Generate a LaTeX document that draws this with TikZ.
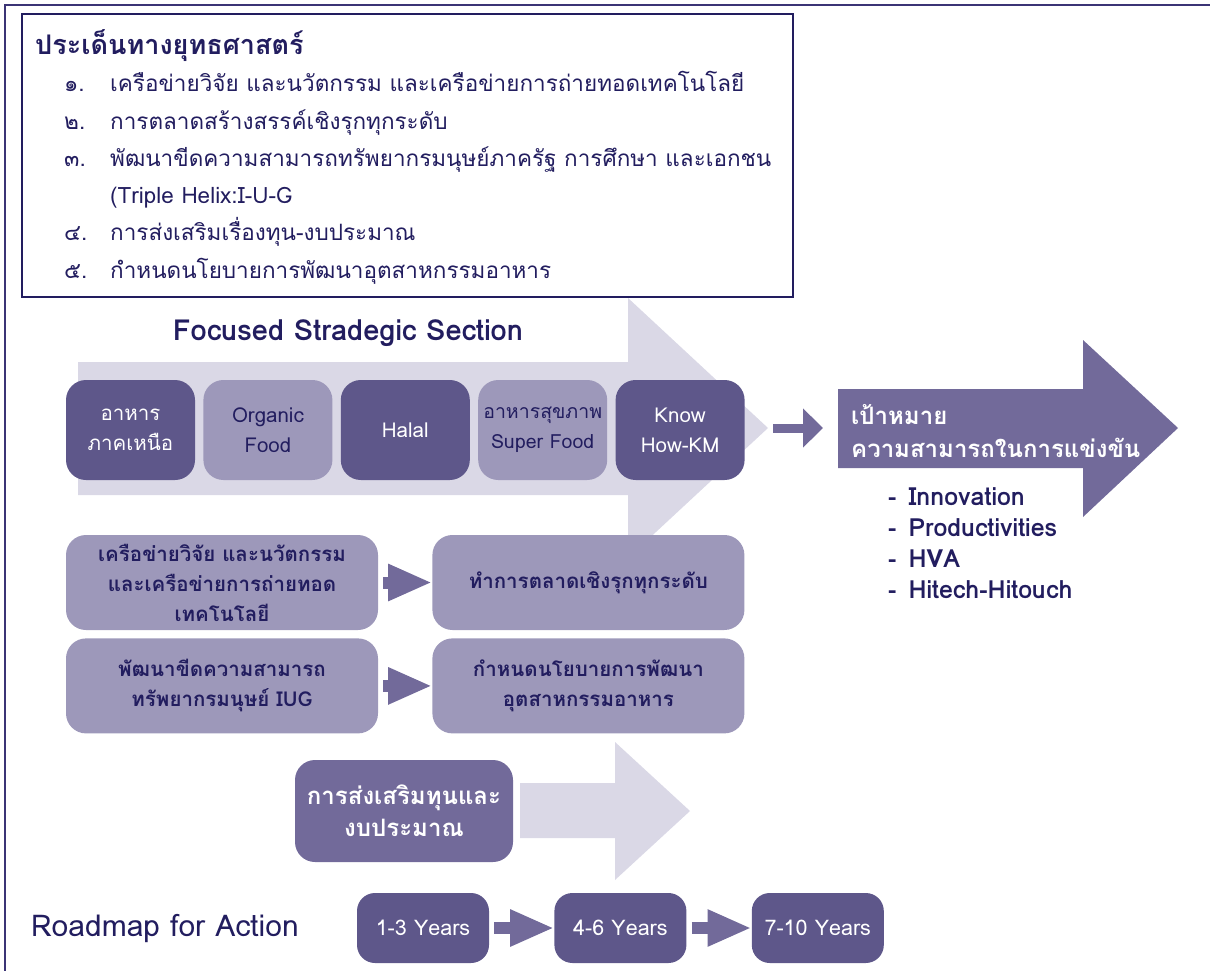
\documentclass[tikz,border=0pt]{standalone}
\usepackage{fontspec}
\setmainfont{Loma}[Script=Thai]
\usetikzlibrary{arrows.meta,positioning}

\definecolor{navy}{HTML}{221D5F}
\definecolor{framecol}{HTML}{3B3475}
\definecolor{darkbox}{HTML}{5E578A}
\definecolor{lightbox}{HTML}{9D98BA}
\definecolor{midbox}{HTML}{726A9A}
\definecolor{pale}{HTML}{DAD8E6}

\begin{document}
\begin{tikzpicture}[x=1pt,y=-1pt,node distance=8pt,
  dark node/.style={rounded corners=20pt,fill=darkbox,text=white,align=center,
    minimum width=129pt,minimum height=100pt,inner sep=0pt,font=\fontsize{20.5}{30}\selectfont},
  light node/.style={dark node,fill=lightbox,text=navy},
  wide node/.style={rounded corners=20pt,fill=lightbox,text=navy,align=center,
    minimum width=312pt,minimum height=95pt,inner sep=0pt,font=\fontsize{20.5}{30}\selectfont\bfseries},
  year node/.style={rounded corners=18pt,fill=darkbox,text=white,
    minimum width=132pt,minimum height=70pt,inner sep=0pt,font=\fontsize{21.5}{26}\selectfont},
  list text/.style={anchor=base west,text=navy,inner sep=0pt,font=\fontsize{22.5}{27}\selectfont},
  target text/.style={anchor=base west,text=navy,inner sep=0pt,font=\fontsize{25}{30}\selectfont\bfseries},
  flow arrow/.style={draw=midbox,line width=12pt,-{Triangle[length=44pt,width=34pt]},shorten <=5pt}]

  \useasboundingbox (0,0) rectangle (1210,971);
  \draw[framecol,line width=1.5pt] (5,971) -- (5,5) -- (1210,5);

  % big background arrows
  \fill[pale] (78,362) -- (628,362) -- (628,298) -- (768,428) -- (628,558) -- (628,495) -- (78,495) -- cycle;
  \fill[pale] (520,783) -- (615,783) -- (615,742) -- (690,811) -- (615,880) -- (615,838) -- (520,838) -- cycle;
  \fill[midbox] (838,389) -- (1083,389) -- (1083,340) -- (1178,428) -- (1083,517) -- (1083,468) -- (838,468) -- cycle;

  % strategic issues
  \node[draw=navy,line width=1.5pt,minimum width=771pt,minimum height=283pt,inner sep=0pt] (issues) at (407.5,155.5) {};
  \node[anchor=base west,text=navy,inner sep=0pt,font=\fontsize{27}{32}\selectfont\bfseries] (issuestitle) at (35,55) {ประเด็นทางยุทธศาสตร์};
  \node[list text] (i1) at (64,92) {๑.};
  \node[list text] (t1) at (110,92) {เครือข่ายวิจัย และนวัตกรรม และเครือข่ายการถ่ายทอดเทคโนโลยี};
  \node[list text] (i2) at (64,130) {๒.};
  \node[list text] (t2) at (110,130) {การตลาดสร้างสรรค์เชิงรุกทุกระดับ};
  \node[list text] (i3) at (64,167) {๓.};
  \node[list text] (t3) at (110,167) {พัฒนาขีดความสามารถทรัพยากรมนุษย์ภาครัฐ การศึกษา และเอกชน};
  \node[list text] (t3b) at (110,203) {(Triple Helix:I-U-G};
  \node[list text] (i4) at (64,240) {๔.};
  \node[list text] (t4) at (110,240) {การส่งเสริมเรื่องทุน-งบประมาณ};
  \node[list text] (i5) at (64,278) {๕.};
  \node[list text] (t5) at (110,278) {กำหนดนโยบายการพัฒนาอุตสาหกรรมอาหาร};

  % focused section
  \node[text=navy,font=\fontsize{29}{34}\selectfont\bfseries] (focus) at (348,333) {Focused Stradegic Section};
  \node[dark node] (north) at (130.5,430) {อาหาร\\ภาคเหนือ};
  \node[light node,right=of north] (organic) {Organic\\Food};
  \node[dark node,right=of organic] (halal) {Halal};
  \node[light node,right=of halal,font=\fontsize{19.5}{30}\selectfont] (health) {อาหารสุขภาพ\\Super Food};
  \node[dark node,right=of health] (knowhow) {Know\\How-KM};

  % goal
  \coordinate (focustip) at (768,428);
  \coordinate (goalin) at (823,428);
  \draw[flow arrow,line width=9pt,-{Triangle[length=20pt,width=38pt]}] (focustip) -- (goalin);
  \node[anchor=west,text=white,align=left,inner sep=0pt,font=\fontsize{24}{33}\selectfont\bfseries] (goal) at (851,431) {เป้าหมาย\\ความสามารถในการแข่งขัน};
  \node[target text] (g1) at (888,505) {-\hspace{12pt}Innovation};
  \node[target text] (g2) at (888,536) {-\hspace{12pt}Productivities};
  \node[target text] (g3) at (888,567) {-\hspace{12pt}HVA};
  \node[target text] (g4) at (888,598) {-\hspace{12pt}Hitech-Hitouch};

  % actions
  \node[wide node] (network) at (222,582.5) {เครือข่ายวิจัย และนวัตกรรม\\และเครือข่ายการถ่ายทอด\\เทคโนโลยี};
  \node[wide node,right=54pt of network] (market) {ทำการตลาดเชิงรุกทุกระดับ};
  \node[wide node,below=of network] (people) {พัฒนาขีดความสามารถ\\ทรัพยากรมนุษย์ IUG};
  \node[wide node,right=54pt of people] (policy) {กำหนดนโยบายการพัฒนา\\อุตสาหกรรมอาหาร};
  \draw[flow arrow] (network) -- (market);
  \draw[flow arrow] (people) -- (policy);

  \node[rounded corners=20pt,fill=midbox,text=white,align=center,minimum width=218pt,minimum height=102pt,
    inner sep=0pt,font=\fontsize{24}{32}\selectfont\bfseries] (fund) at (404,811) {การส่งเสริมทุนและ\\งบประมาณ};

  % roadmap
  \node[anchor=west,text=navy,inner sep=0pt,font=\fontsize{30}{35}\selectfont] (roadmap) at (31,928) {Roadmap for Action};
  \node[year node] (y1) at (423,928) {1-3 Years};
  \node[year node,right=65pt of y1] (y2) {4-6 Years};
  \node[year node,right=65pt of y2] (y3) {7-10 Years};
  \draw[flow arrow] (y1) -- (y2);
  \draw[flow arrow] (y2) -- (y3);
\end{tikzpicture}
\end{document}
